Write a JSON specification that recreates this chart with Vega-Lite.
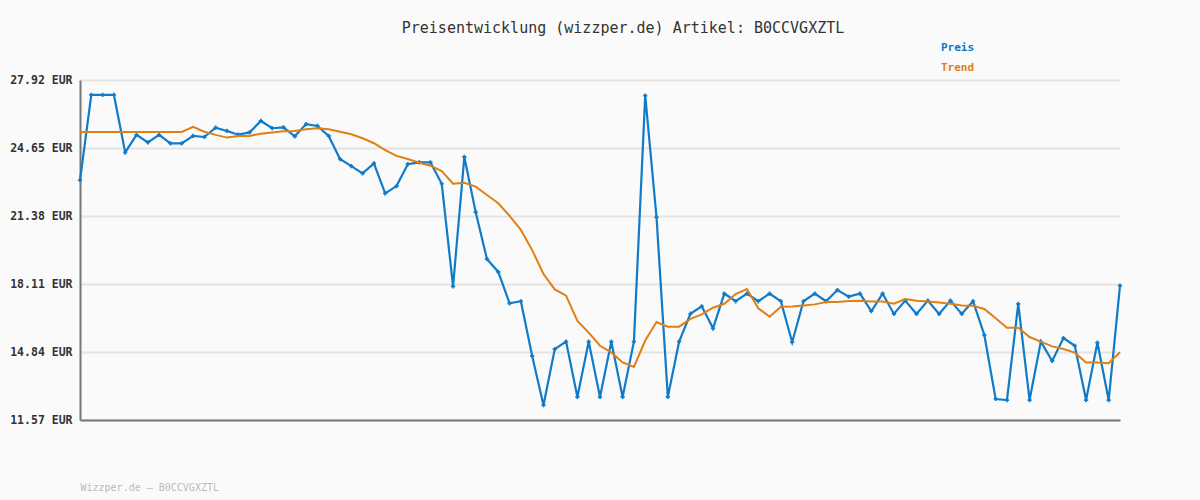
{
  "$schema": "https://vega.github.io/schema/vega-lite/v6.json",
  "width": 1040,
  "height": 340,
  "autosize": {"type": "none"},
  "padding": {"left": 80, "top": 80, "right": 80, "bottom": 80},
  "background": "#fafafa",
  "title": {
    "text": "Preisentwicklung (wizzper.de) Artikel: B0CCVGXZTL",
    "font": "DejaVu Sans Mono",
    "fontSize": 15,
    "fontWeight": "normal",
    "color": "#333333",
    "anchor": "middle",
    "dx": 23,
    "offset": 6
  },
  "config": {
    "view": {"stroke": null},
    "font": "DejaVu Sans Mono"
  },
  "data": {
    "values": [
      {"i":0,"Preis":23.10,"Trend":25.42},{"i":1,"Preis":27.20,"Trend":25.42},{"i":2,"Preis":27.20,"Trend":25.42},{"i":3,"Preis":27.20,"Trend":25.42},{"i":4,"Preis":24.44,"Trend":25.42},{"i":5,"Preis":25.28,"Trend":25.42},{"i":6,"Preis":24.92,"Trend":25.42},{"i":7,"Preis":25.28,"Trend":25.42},{"i":8,"Preis":24.87,"Trend":25.42},{"i":9,"Preis":24.87,"Trend":25.42},
      {"i":10,"Preis":25.23,"Trend":25.67},{"i":11,"Preis":25.18,"Trend":25.43},{"i":12,"Preis":25.63,"Trend":25.28},{"i":13,"Preis":25.47,"Trend":25.15},{"i":14,"Preis":25.29,"Trend":25.23},{"i":15,"Preis":25.40,"Trend":25.23},{"i":16,"Preis":25.95,"Trend":25.34},{"i":17,"Preis":25.60,"Trend":25.40},{"i":18,"Preis":25.64,"Trend":25.45},{"i":19,"Preis":25.21,"Trend":25.47},
      {"i":20,"Preis":25.80,"Trend":25.55},{"i":21,"Preis":25.71,"Trend":25.60},{"i":22,"Preis":25.23,"Trend":25.55},{"i":23,"Preis":24.12,"Trend":25.43},{"i":24,"Preis":23.78,"Trend":25.31},{"i":25,"Preis":23.43,"Trend":25.12},{"i":26,"Preis":23.91,"Trend":24.88},{"i":27,"Preis":22.47,"Trend":24.55},{"i":28,"Preis":22.82,"Trend":24.27},{"i":29,"Preis":23.87,"Trend":24.12},
      {"i":30,"Preis":23.96,"Trend":23.94},{"i":31,"Preis":23.96,"Trend":23.80},{"i":32,"Preis":22.93,"Trend":23.54},{"i":33,"Preis":18.00,"Trend":22.93},{"i":34,"Preis":24.22,"Trend":22.98},{"i":35,"Preis":21.57,"Trend":22.79},{"i":36,"Preis":19.31,"Trend":22.39},{"i":37,"Preis":18.69,"Trend":21.99},{"i":38,"Preis":17.18,"Trend":21.39},{"i":39,"Preis":17.28,"Trend":20.71},
      {"i":40,"Preis":14.65,"Trend":19.74},{"i":41,"Preis":12.28,"Trend":18.59},{"i":42,"Preis":14.98,"Trend":17.85},{"i":43,"Preis":15.34,"Trend":17.55},{"i":44,"Preis":12.68,"Trend":16.33},{"i":45,"Preis":15.34,"Trend":15.77},{"i":46,"Preis":12.68,"Trend":15.14},{"i":47,"Preis":15.34,"Trend":14.82},{"i":48,"Preis":12.68,"Trend":14.34},{"i":49,"Preis":15.34,"Trend":14.12},
      {"i":50,"Preis":27.17,"Trend":15.39},{"i":51,"Preis":21.32,"Trend":16.28},{"i":52,"Preis":12.68,"Trend":16.06},{"i":53,"Preis":15.34,"Trend":16.06},{"i":54,"Preis":16.68,"Trend":16.43},{"i":55,"Preis":17.04,"Trend":16.65},{"i":56,"Preis":15.98,"Trend":16.97},{"i":57,"Preis":17.65,"Trend":17.16},{"i":58,"Preis":17.28,"Trend":17.63},{"i":59,"Preis":17.65,"Trend":17.87},
      {"i":60,"Preis":17.28,"Trend":16.94},{"i":61,"Preis":17.65,"Trend":16.54},{"i":62,"Preis":17.28,"Trend":17.02},{"i":63,"Preis":15.31,"Trend":17.03},{"i":64,"Preis":17.28,"Trend":17.08},{"i":65,"Preis":17.65,"Trend":17.13},{"i":66,"Preis":17.28,"Trend":17.24},{"i":67,"Preis":17.82,"Trend":17.24},{"i":68,"Preis":17.50,"Trend":17.29},{"i":69,"Preis":17.65,"Trend":17.30},
      {"i":70,"Preis":16.80,"Trend":17.27},{"i":71,"Preis":17.65,"Trend":17.27},{"i":72,"Preis":16.67,"Trend":17.16},{"i":73,"Preis":17.31,"Trend":17.39},{"i":74,"Preis":16.67,"Trend":17.31},{"i":75,"Preis":17.31,"Trend":17.27},{"i":76,"Preis":16.67,"Trend":17.22},{"i":77,"Preis":17.31,"Trend":17.16},{"i":78,"Preis":16.67,"Trend":17.08},{"i":79,"Preis":17.28,"Trend":17.06},
      {"i":80,"Preis":15.66,"Trend":16.91},{"i":81,"Preis":12.58,"Trend":16.46},{"i":82,"Preis":12.53,"Trend":16.01},{"i":83,"Preis":17.15,"Trend":16.01},{"i":84,"Preis":12.53,"Trend":15.56},{"i":85,"Preis":15.34,"Trend":15.34},{"i":86,"Preis":14.41,"Trend":15.11},{"i":87,"Preis":15.51,"Trend":14.98},{"i":88,"Preis":15.14,"Trend":14.81},{"i":89,"Preis":12.53,"Trend":14.34},
      {"i":90,"Preis":15.29,"Trend":14.34},{"i":91,"Preis":12.53,"Trend":14.30},{"i":92,"Preis":18.03,"Trend":14.83}
    ]
  },
  "transform": [{"fold": ["Preis", "Trend"], "as": ["series", "value"]}],
  "encoding": {
    "x": {
      "field": "i",
      "type": "quantitative",
      "scale": {"domain": [0, 92], "nice": false, "zero": false},
      "axis": {
        "labels": false,
        "ticks": false,
        "grid": false,
        "domain": true,
        "domainColor": "#777777",
        "domainWidth": 2,
        "title": "Wizzper.de – B0CCVGXZTL",
        "titleFont": "DejaVu Sans Mono",
        "titleFontSize": 10,
        "titleFontWeight": "normal",
        "titleColor": "#bbbbbb",
        "titleAnchor": "start",
        "titleAlign": "left",
        "titleBaseline": "middle",
        "titleX": 0,
        "titleY": 67
      }
    },
    "y": {
      "field": "value",
      "type": "quantitative",
      "scale": {"domain": [11.57, 27.92], "nice": false, "zero": false},
      "axis": {
        "values": [11.57, 14.84, 18.11, 21.38, 24.65, 27.92],
        "labelExpr": "format(datum.value, '.2f') + ' EUR'",
        "labelFont": "DejaVu Sans Mono",
        "labelFontSize": 11.5,
        "labelFontWeight": "bold",
        "labelColor": "#333333",
        "labelPadding": 8,
        "ticks": false,
        "grid": true,
        "gridColor": "#e4e4e4",
        "gridWidth": 2,
        "domain": true,
        "domainColor": "#777777",
        "domainWidth": 2,
        "title": null
      }
    },
    "color": {
      "field": "series",
      "type": "nominal",
      "scale": {"domain": ["Preis", "Trend"], "range": ["#0f7bc9", "#e08012"]},
      "legend": {
        "orient": "none",
        "legendX": 850,
        "legendY": -38,
        "title": null,
        "symbolSize": 0,
        "symbolOpacity": 0,
        "symbolStrokeWidth": 0,
        "labelOffset": 0,
        "labelFont": "DejaVu Sans Mono",
        "labelFontSize": 11,
        "labelFontWeight": "bold",
        "rowPadding": 8,
        "labelColor": {"expr": "datum.label === 'Preis' ? '#0a78c8' : '#e07f10'"}
      }
    }
  },
  "layer": [
    {
      "transform": [{"filter": "datum.series === 'Preis'"}],
      "mark": {"type": "line", "strokeWidth": 2.2}
    },
    {
      "transform": [{"filter": "datum.series === 'Preis'"}],
      "mark": {"type": "point", "shape": "cross", "size": 18, "filled": true, "opacity": 1}
    },
    {
      "transform": [{"filter": "datum.series === 'Trend'"}],
      "mark": {"type": "line", "strokeWidth": 2}
    }
  ]
}
